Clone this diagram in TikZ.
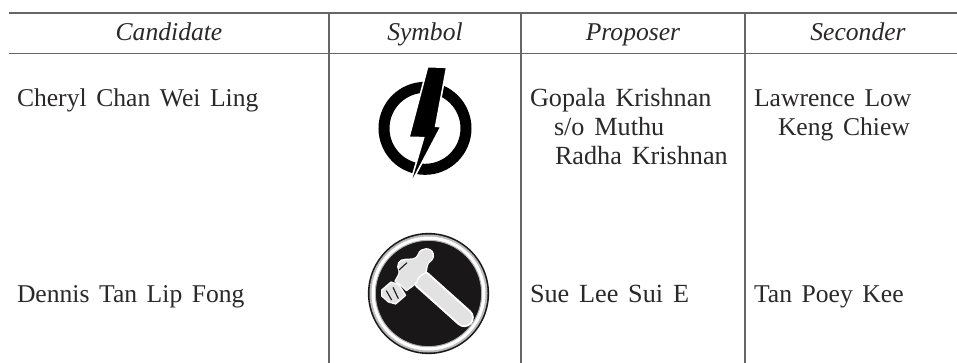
\documentclass[tikz,border=0pt]{standalone}
\usepackage{fontspec}
\setmainfont[WordSpace=1.5]{Liberation Serif}
\definecolor{ink}{HTML}{2A2828}
\definecolor{rule}{HTML}{666666}
\definecolor{hamblack}{HTML}{1A1718}
\definecolor{hamgrey}{HTML}{E2E2E3}
\begin{document}
\begin{tikzpicture}[x=1pt,y=-1pt,
  cell/.style={inner sep=0pt,outer sep=0pt,text=ink,font=\fontsize{25.6}{29}\selectfont,anchor=base west},
  widecell/.style={cell,font=\fontsize{26.2}{29}\selectfont},
  head/.style={inner sep=0pt,outer sep=0pt,text=ink,font=\fontsize{25.6}{29}\selectfont\itshape,anchor=base},
  tablerule/.style={draw=rule,line width=1.5pt},
  symbolz/.style={x=0.3333pt,y=-0.3333pt},
  hamedge/.style={fill=hamgrey,draw=white,line width=1.2pt,line join=round}]
\useasboundingbox (0,0) rectangle (957,363);
\fill[white] (0,0) rectangle (957,363);
% rules
\draw[tablerule,line width=1.1pt] (9,13) -- (957,13);
\draw[tablerule] (9,53.5) -- (957,53.5);
\draw[tablerule] (329,13) -- (329,363);
\draw[tablerule] (521,13) -- (521,363);
\draw[tablerule] (745,13) -- (745,363);
% headers
\node[head] (h1) at (169,41) {Candidate};
\node[head] (h2) at (425,41) {Symbol};
\node[head] (h3) at (633,41) {Proposer};
\node[head] (h4) at (858,41) {Seconder};
% body
\node[cell] (c1) at (17,107) {Cheryl Chan Wei Ling};
\node[cell] (c2) at (17,302) {Dennis Tan Lip Fong};
\node[widecell] (p1) at (530,107) {Gopala Krishnan};
\node[widecell] (p2) at (554,136) {s/o Muthu};
\node[widecell] (p3) at (555,165) {Radha Krishnan};
\node[widecell] (p4) at (530,302) {Sue Lee Sui E};
\node[cell] (s1) at (754,107) {Lawrence Low};
\node[cell] (s2) at (778,136) {Keng Chiew};
\node[cell] (s3) at (754,302) {Tan Poey Kee};
% lightning symbol
\begin{scope}[shift={(335,50)},symbolz]
  \draw[black,line width=11pt] (270,235) circle[radius=123];
  \filldraw[fill=black,draw=white,line width=1.6pt,line join=miter]
    (278,50) -- (335,52) -- (302,229) -- (318,230) -- (222,412) -- (266,263) -- (222,262) -- cycle;
\end{scope}
% hammer symbol
\fill[hamblack] (428.5,293.5) circle[radius=60.6];
\fill[gray!55] (428.5,293.5) circle[radius=59];
\fill[white] (428.5,293.5) circle[radius=57];
\draw[draw=gray!60,fill=hamblack,line width=1pt] (428.5,293.5) circle[radius=53.2];
\begin{scope}[shift={(375,240)},symbolz]
  \draw[white,line width=19pt,line cap=round] (142,120) -- (268,233);
  \draw[hamgrey,line width=15pt,line cap=round] (142,120) -- (268,233);
  \filldraw[hamedge]
    (130,42) .. controls (136,22) and (170,20) .. (175,42)
    .. controls (178,58) and (165,65) .. (160,70)
    .. controls (153,82) and (158,92) .. (150,100)
    .. controls (136,105) and (130,112) .. (126,126)
    .. controls (118,136) and (108,142) .. (94,152)
    -- (84,142)
    .. controls (76,132) and (64,128) .. (60,124)
    .. controls (64,112) and (74,106) .. (72,92)
    .. controls (62,78) and (72,56) .. (92,58)
    .. controls (106,56) and (122,62) .. (130,42) -- cycle;
  \filldraw[hamedge]
    (20,150) -- (48,126) -- (72,134) -- (92,166) -- (62,192) -- (40,186) -- (20,168) -- cycle;
  \draw[hamblack,line width=1.1pt] (34,152) -- (50,180) (54,142) -- (70,176);
  \draw[hamblack,line width=1.1pt] (72,90) -- (96,68);
\end{scope}
\end{tikzpicture}
\end{document}
